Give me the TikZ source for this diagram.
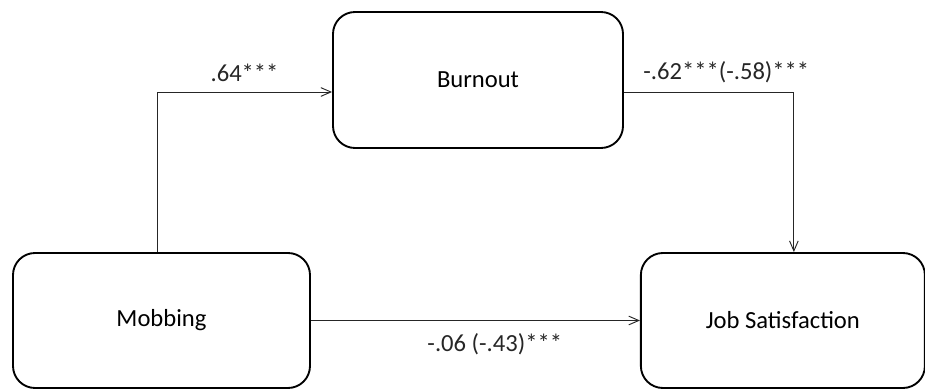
\documentclass[tikz,border=0pt]{standalone}
\usepackage{fontspec}
\setmainfont{Carlito}
\usepackage{tikz}
\usetikzlibrary{arrows.meta,positioning}
\definecolor{pathink}{HTML}{262626}

\begin{document}
\begin{tikzpicture}[
  >={Straight Barb[length=3mm,width=2.6mm]},
  construct/.style={draw=black,line width=1.6pt,rounded corners=0.66cm,
    minimum height=4.05cm,align=center,font=\fontsize{21}{25}\selectfont},
  effect/.style={->,pathink,line width=0.8pt},
  coef/.style={font=\fontsize{21}{25}\selectfont,inner sep=0pt}
]
  \useasboundingbox (0,0) rectangle (27.75,-11.7);

  \node[construct,minimum width=8.91cm] (mobbing) at (4.845,-9.615) {Mobbing};
  \node[construct,minimum width=8.52cm,right=9.87cm of mobbing]
    (jobsat) {Job Satisfaction};
  \node[construct,minimum width=8.7cm,minimum height=4.08cm]
    (burnout) at (14.34,-2.4) {Burnout};

  \draw[effect] ([xshift=-0.135cm]mobbing.north) |- ([yshift=-0.36cm]burnout.west)
    node[coef,pos=0.75,anchor=base,yshift=0.3cm] {.64***};
  \draw[effect] ([yshift=-0.36cm]burnout.east) -| ([xshift=0.33cm]jobsat.north)
    node[coef,pos=0,anchor=base west,xshift=0.57cm,yshift=0.36cm] {-.62***(-.58)***};
  \draw[effect] (mobbing) -- (jobsat)
    node[coef,midway,anchor=base,xshift=0.58cm,yshift=-0.93cm] {-.06 (-.43)***};
\end{tikzpicture}
\end{document}
